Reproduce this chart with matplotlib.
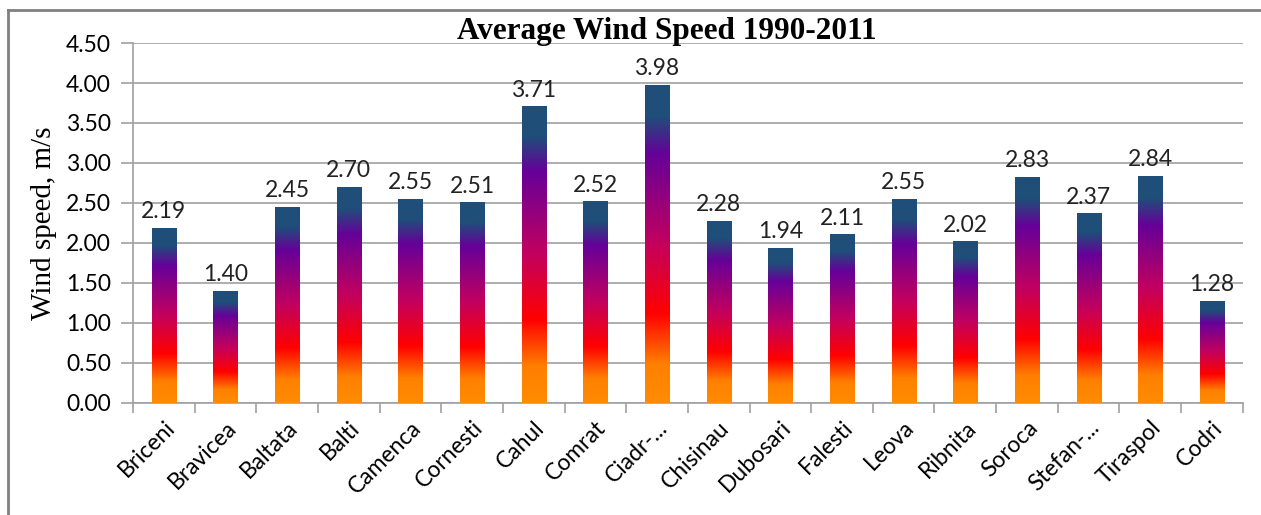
import numpy as np
import matplotlib.pyplot as plt
from matplotlib.colors import LinearSegmentedColormap
from matplotlib.lines import Line2D

stations = ['Briceni', 'Bravicea', 'Baltata', 'Balti', 'Camenca', 'Cornesti',
            'Cahul', 'Comrat', 'Ciadr-...', 'Chisinau', 'Dubosari', 'Falesti',
            'Leova', 'Ribnita', 'Soroca', 'Stefan-...', 'Tiraspol', 'Codri']
speeds = [2.19, 1.40, 2.45, 2.70, 2.55, 2.51, 3.71, 2.52, 3.98, 2.28,
          1.94, 2.11, 2.55, 2.02, 2.83, 2.37, 2.84, 1.28]
yticks = [0.0, 0.5, 1.0, 1.5, 2.0, 2.5, 3.0, 3.5, 4.0, 4.5]

grad = LinearSegmentedColormap.from_list('bar_grad', [
    (0.00, '#FF8C00'), (0.12, '#FF8000'), (0.28, '#FF0000'),
    (0.50, '#C3005E'), (0.78, '#660099'), (0.90, '#1F4E79'), (1.00, '#1F4E79')])

label_font = 'Lato'
grid_col = '#A0A0A0'

fig = plt.figure(figsize=(12.61, 5.15), dpi=100)
ax = fig.add_axes([0.1055, 0.2175, 0.88, 0.699])

x = np.arange(len(stations))
bars = ax.bar(x, speeds, width=0.39, facecolor='none', edgecolor='none', zorder=3)

g = np.linspace(0, 1, 256).reshape(-1, 1)
for b in bars:
    x0, y0 = b.get_x(), b.get_y()
    w, h = b.get_width(), b.get_height()
    im = ax.imshow(g, cmap=grad, origin='lower', aspect='auto',
                   extent=[x0, x0 + w, y0, y0 + h], zorder=3, interpolation='bilinear')
    im.set_clip_path(b)
    ax.text(x0 + w / 2, h + 0.07, f'{h:.2f}', ha='center', va='bottom',
            fontsize=16.5, family=label_font, color='#222222', zorder=4)

ax.set_xlim(-0.5, len(stations) - 0.5)
ax.set_ylim(0, 4.5)
ax.set_yticks(yticks)
ax.set_yticklabels([f'{v:.2f}' for v in yticks], family=label_font, fontsize=16.5)
ax.yaxis.grid(True, color=grid_col, lw=1.2, zorder=0)
ax.set_axisbelow(True)

ax.set_xticks(x)
ax.set_xticklabels(stations, rotation=45, ha='right', rotation_mode='anchor',
                   family=label_font, fontsize=16.5)
ax.set_xticks(np.arange(-0.5, len(stations)), minor=True)
ax.tick_params(axis='x', which='major', length=0, pad=10)
ax.tick_params(axis='x', which='minor', length=7, color=grid_col, width=1.2)
ax.tick_params(axis='y', length=9, color=grid_col, width=1.2, pad=7)

for s in ['top', 'right']:
    ax.spines[s].set_visible(False)
for s in ['left', 'bottom']:
    ax.spines[s].set_color(grid_col)
    ax.spines[s].set_linewidth(1.2)

ax.set_ylabel('Wind speed, m/s', family='Liberation Serif', fontsize=21, labelpad=6)
fig.text(667 / 1261, 1 - 32 / 515, 'Average Wind Speed 1990-2011', ha='center', va='center',
         family='Liberation Serif', fontweight='bold', fontsize=22.5)

# outer frame (left and top edges only are visible)
fig.add_artist(Line2D([8 / 1261, 8 / 1261], [0, 1 - 10 / 515], transform=fig.transFigure,
                      color='#808080', lw=2))
fig.add_artist(Line2D([8 / 1261, 1], [1 - 10 / 515, 1 - 10 / 515], transform=fig.transFigure,
                      color='#808080', lw=2))

fig.savefig('out.png', dpi=100)
